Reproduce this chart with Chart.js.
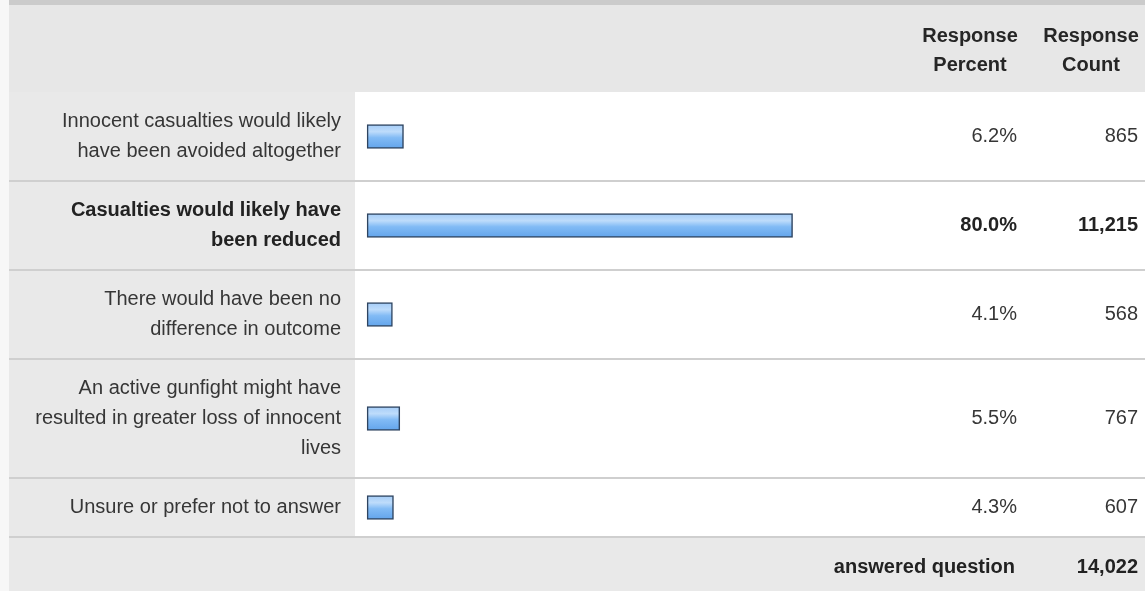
<!DOCTYPE html>
<html>
<head>
<meta charset="utf-8">
<script src="https://cdn.jsdelivr.net/npm/chart.js@4"></script>
<style>
  html, body { margin: 0; padding: 0; background: #f7f7f7; }
  #wrap { width: 1145px; height: 591px; position: relative; }
</style>
</head>
<body>
<div id="wrap"><canvas id="surveyChart"></canvas></div>
<script>
const categories = [
    ["Innocent casualties would likely", "have been avoided altogether"],
    ["Casualties would likely have", "been reduced"],
    ["There would have been no", "difference in outcome"],
    ["An active gunfight might have", "resulted in greater loss of innocent", "lives"],
    ["Unsure or prefer not to answer"]
];
const percents = [6.2, 80.0, 4.1, 5.5, 4.3];
const counts = [865, 11215, 568, 767, 607];
const answeredLabel = "answered question";
const answeredTotal = 14022;
const headerPercent = ["Response", "Percent"];
const headerCount = ["Response", "Count"];

const FONT = '"Liberation Sans", Arial, Helvetica, sans-serif';
const FONT_SIZE = 20;
const LINE_H = 30;
const ROW_PAD = 29;
const PANEL_LEFT = 9;
const LABEL_COL = 355;
const PCT_RIGHT = 1017;
const CNT_RIGHT = 1138;

const topIndex = percents.indexOf(Math.max(...percents));

let rows = [];

// table rows have uneven heights (they grow with the label's line count),
// so the category scale is remapped to those row centres
const rowLayout = {
    id: 'rowLayout',
    beforeDatasetsUpdate(chart) {
        const area = chart.chartArea;
        const y = chart.scales.y;
        let top = area.top;
        rows = categories.map(function (lab) {
            const lines = Array.isArray(lab) ? lab.length : 1;
            const h = lines * LINE_H + ROW_PAD;
            const r = { top: top, bottom: top + h, center: top + h / 2 };
            top += h;
            return r;
        });
        y.getPixelForValue = function (v) {
            const i = Math.max(0, Math.min(rows.length - 1, Math.round(v)));
            return rows[i].center;
        };
    }
};

const tableDecor = {
    id: 'tableDecor',
    beforeDraw(chart) {
        const c = chart.ctx;
        const W = chart.width, H = chart.height;
        const area = chart.chartArea;
        c.save();
        c.fillStyle = '#f7f7f7';
        c.fillRect(0, 0, W, H);
        c.fillStyle = '#cbcbcb';
        c.fillRect(PANEL_LEFT, 0, W - PANEL_LEFT, 5);
        c.fillStyle = '#e7e7e7';
        c.fillRect(PANEL_LEFT, 5, W - PANEL_LEFT, area.top - 5);
        c.fillStyle = '#e9e9e9';
        c.fillRect(PANEL_LEFT, area.top, LABEL_COL - PANEL_LEFT, area.bottom - area.top);
        c.fillStyle = '#ffffff';
        c.fillRect(LABEL_COL, area.top, W - LABEL_COL, area.bottom - area.top);
        c.fillStyle = '#e9e9e9';
        c.fillRect(PANEL_LEFT, area.bottom, W - PANEL_LEFT, H - area.bottom);

        c.fillStyle = '#cfcfcf';
        rows.forEach(function (r) {
            c.fillRect(PANEL_LEFT, r.bottom - 1, W - PANEL_LEFT, 2);
        });

        // header
        c.fillStyle = '#262626';
        c.font = 'bold ' + FONT_SIZE + 'px ' + FONT;
        c.textAlign = 'center';
        c.textBaseline = 'middle';
        headerPercent.forEach(function (t, i) { c.fillText(t, 970, 36 + i * 29); });
        headerCount.forEach(function (t, i) { c.fillText(t, 1091, 36 + i * 29); });
        c.restore();
    },
    afterDatasetsDraw(chart) {
        const c = chart.ctx;
        c.save();
        c.textAlign = 'right';
        c.textBaseline = 'middle';
        rows.forEach(function (r, i) {
            const bold = i === topIndex;
            c.font = (bold ? 'bold ' : '') + FONT_SIZE + 'px ' + FONT;
            c.fillStyle = bold ? '#222222' : '#363636';
            c.fillText(percents[i].toFixed(1) + '%', PCT_RIGHT, r.center);
            c.fillText(counts[i].toLocaleString('en-US'), CNT_RIGHT, r.center);
        });
        const yb = (chart.chartArea.bottom + chart.height) / 2 + 3;
        c.font = 'bold ' + FONT_SIZE + 'px ' + FONT;
        c.fillStyle = '#222222';
        c.fillText(answeredLabel, 1015, yb);
        c.fillText(answeredTotal.toLocaleString('en-US'), CNT_RIGHT, yb);
        c.restore();
    }
};

function barGradient(context) {
    const chart = context.chart;
    if (!chart.chartArea || context.dataIndex === undefined || !rows.length) return '#7db8f2';
    const yc = chart.scales.y.getPixelForValue(context.dataIndex);
    const g = chart.ctx.createLinearGradient(0, yc - 12, 0, yc + 12);
    g.addColorStop(0, '#a4ccf7');
    g.addColorStop(0.3, '#bedcfb');
    g.addColorStop(0.55, '#82bbf5');
    g.addColorStop(1, '#62a4eb');
    return g;
}

new Chart(document.getElementById('surveyChart'), {
    type: 'bar',
    data: {
        labels: categories,
        datasets: [{
            data: percents,
            base: -0.7,
            backgroundColor: barGradient,
            borderColor: '#2e4460',
            borderWidth: 1.5,
            borderSkipped: false,
            barThickness: 24
        }]
    },
    options: {
        indexAxis: 'y',
        responsive: true,
        maintainAspectRatio: false,
        animation: false,
        layout: { padding: { top: 92, bottom: 54, left: PANEL_LEFT, right: 247 } },
        plugins: { legend: { display: false }, tooltip: { enabled: false } },
        scales: {
            x: { display: false, min: -3, max: 100 },
            y: {
                type: 'category',
                grid: { display: false, drawTicks: false },
                border: { display: false },
                afterFit: function (s) { s.width = LABEL_COL - PANEL_LEFT; },
                ticks: {
                    padding: 14,
                    autoSkip: false,
                    color: function (ctx) { return ctx.index === topIndex ? '#222222' : '#363636'; },
                    font: function (ctx) {
                        return { family: FONT, size: FONT_SIZE, lineHeight: LINE_H / FONT_SIZE,
                                 weight: ctx.index === topIndex ? 'bold' : 'normal' };
                    }
                }
            }
        }
    },
    plugins: [rowLayout, tableDecor]
});
</script>
</body>
</html>
